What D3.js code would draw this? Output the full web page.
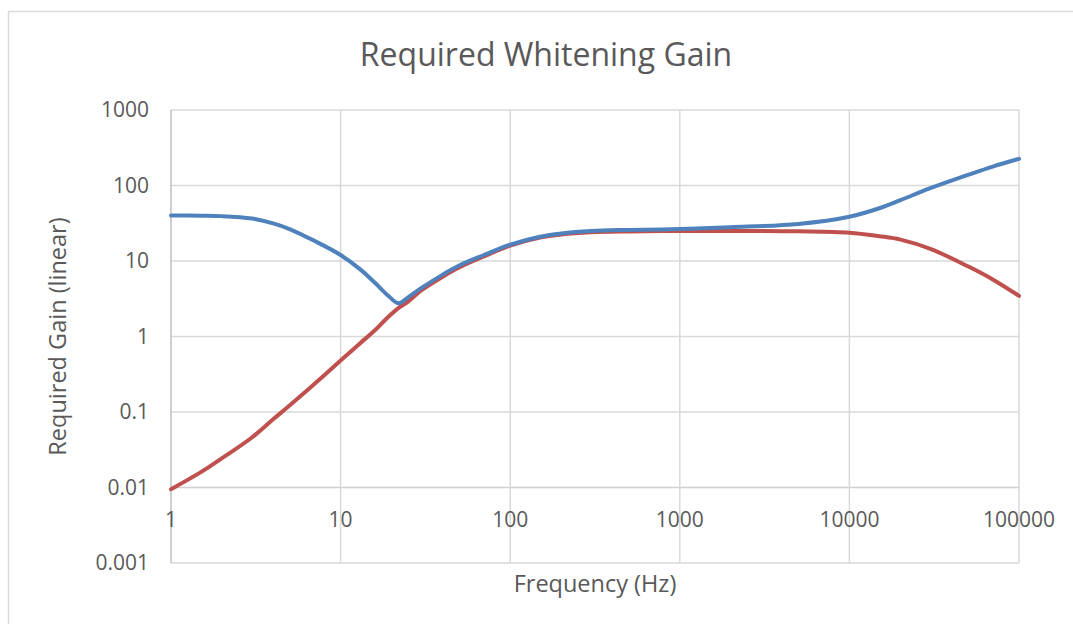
<!DOCTYPE html>
<html>
<head>
<meta charset="utf-8">
<script src="https://cdn.jsdelivr.net/npm/d3@7"></script>
<style>
  body { margin: 0; background: #fff; }
  text { font-family: "Open Sans", "Liberation Sans", sans-serif; fill: #595959; }
</style>
</head>
<body>
<svg id="chart" width="1073" height="624"></svg>
<script>
// values
var freqs = [1, 1.5, 2, 3, 4, 5, 7, 10, 13, 16, 19, 22, 25, 30, 40, 50, 70, 100, 150, 200, 300, 500,
  1000, 2000, 5000, 10000, 15000, 20000, 30000, 50000, 70000, 100000];
var blueGain = [40, 39.8, 39.3, 36.5, 31.5, 26.5, 18.5, 12, 7.8, 5.1, 3.5, 2.75, 3.3, 4.4, 6.6, 8.7, 12, 16.5, 21, 23.2, 25, 25.8,
  26.5, 28, 31, 38.6, 50, 64, 92, 138, 178, 225];
var redGain = [0.0095, 0.016, 0.0245, 0.046, 0.08, 0.122, 0.235, 0.48, 0.81, 1.22, 1.8, 2.4, 2.9, 4.1, 6.2, 8.2, 11.5, 16, 20.5, 22.5, 24, 24.6,
  25, 25, 24.7, 23.7, 21.3, 19.2, 14.5, 8.5, 5.7, 3.45];
var xTicks = [1, 10, 100, 1000, 10000, 100000];
var yTicks = [0.001, 0.01, 0.1, 1, 10, 100, 1000];

var svg = d3.select("#chart");

// chart area border (only top and left show in the frame)
svg.append("path")
  .attr("d", "M8.5,624 V11.5 H1073")
  .attr("fill", "none")
  .attr("stroke", "#d9d9d9")
  .attr("stroke-width", 1.5);

var x = d3.scaleLog().domain([1, 100000]).range([171, 1019]);
var y = d3.scaleLog().domain([0.001, 1000]).range([563, 110]);

// gridlines
svg.append("g").selectAll("line").data(yTicks).join("line")
  .attr("x1", 171).attr("x2", 1019)
  .attr("y1", d => y(d)).attr("y2", d => y(d))
  .attr("stroke", d => d == 0.01 ? "#cfcfcf" : "#d9d9d9")
  .attr("stroke-width", 1.5);
svg.append("g").selectAll("line").data(xTicks.slice(1)).join("line")
  .attr("x1", d => x(d)).attr("x2", d => x(d))
  .attr("y1", 110).attr("y2", 563)
  .attr("stroke", "#d9d9d9")
  .attr("stroke-width", 1.5);

// vertical axis line
svg.append("line")
  .attr("x1", 171).attr("x2", 171).attr("y1", 110).attr("y2", 563)
  .attr("stroke", "#bfbfbf").attr("stroke-width", 1.5);

// tick labels
svg.append("g").selectAll("text").data(yTicks).join("text")
  .attr("x", 149).attr("y", d => y(d))
  .attr("dy", "0.35em")
  .attr("text-anchor", "end")
  .attr("font-size", 21)
  .text(d => String(d));
svg.append("g").selectAll("text").data(xTicks).join("text")
  .attr("x", d => x(d)).attr("y", y(0.01) + 32)
  .attr("dy", "0.35em")
  .attr("text-anchor", "middle")
  .attr("font-size", 21)
  .text(d => String(d));

// series
var line = d3.line()
  .x(d => x(d[0]))
  .y(d => y(d[1]))
  .curve(d3.curveCatmullRom.alpha(0.5));

svg.append("path")
  .datum(freqs.map((f, i) => [f, redGain[i]]))
  .attr("d", line)
  .attr("fill", "none")
  .attr("stroke", "#c0504d")
  .attr("stroke-width", 4)
  .attr("stroke-linecap", "round");

svg.append("path")
  .datum(freqs.map((f, i) => [f, blueGain[i]]))
  .attr("d", line)
  .attr("fill", "none")
  .attr("stroke", "#4f81bd")
  .attr("stroke-width", 4)
  .attr("stroke-linecap", "round");

// titles
svg.append("text")
  .attr("x", 546).attr("y", 66)
  .attr("text-anchor", "middle")
  .attr("font-size", 32)
  .text("Required Whitening Gain");

svg.append("text")
  .attr("x", 595).attr("y", 592)
  .attr("text-anchor", "middle")
  .attr("font-size", 23.5)
  .text("Frequency (Hz)");

svg.append("text")
  .attr("transform", "translate(66,336.5) rotate(-90)")
  .attr("text-anchor", "middle")
  .attr("font-size", 23.5)
  .text("Required Gain (linear)");
</script>
</body>
</html>
